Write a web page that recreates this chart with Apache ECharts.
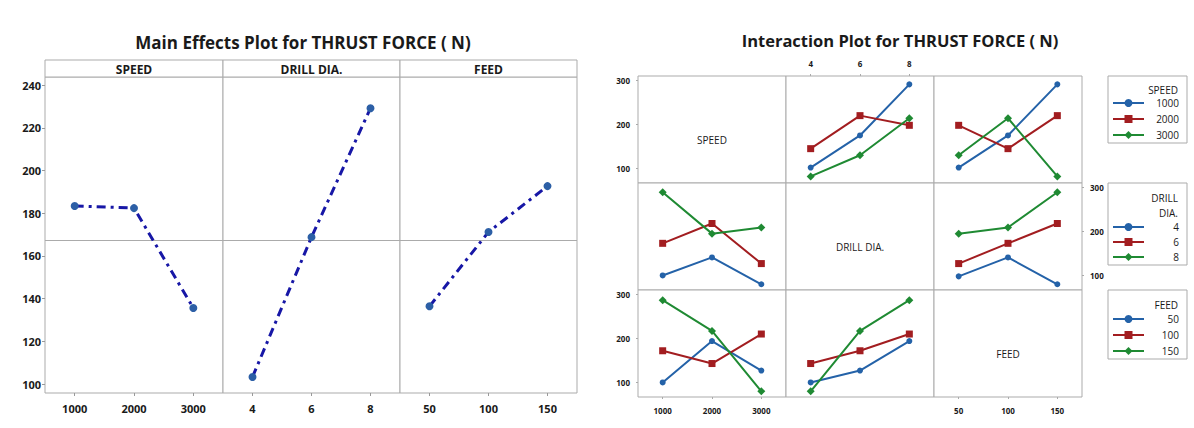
<!DOCTYPE html>
<html><head><meta charset="utf-8">
<script src="https://cdn.jsdelivr.net/npm/echarts@6/dist/echarts.min.js"></script>
<style>html,body{margin:0;padding:0;background:#fff}#c{width:1194px;height:428px}</style>
</head><body><div id="c"></div>
<script>
// ---------- DATA ----------
const speedLevels = ['1000', '2000', '3000'];
const drillLevels = ['4', '6', '8'];
const feedLevels = ['50', '100', '150'];
const factorNames = ['SPEED', 'DRILL DIA.', 'FEED'];

// Main effects (mean thrust force, N)
const meanSpeed = [183.4, 182.4, 135.6];
const meanDrill = [103.3, 168.8, 229.2];
const meanFeed = [136.4, 171.2, 192.7];
const mainTicks = [100, 120, 140, 160, 180, 200, 220, 240];

// Interaction means: rows = traced factor level, columns = x-factor level
const speedByDrill = [[102, 175, 291], [145, 220, 198], [82, 130, 214]];
const speedByFeed = [[102, 175, 291], [198, 145, 220], [130, 214, 82]];
const drillBySpeed = [[100, 141, 80], [173, 218, 127], [289, 195, 209]];
const drillByFeed = [[98, 141, 80], [127, 173, 218], [195, 209, 289]];
const feedBySpeed = [[100, 194, 127], [172, 143, 210], [287, 217, 80]];
const feedByDrill = [[100, 127, 194], [143, 172, 210], [80, 217, 287]];
const interTicks = [100, 200, 300];

// ---------- STYLE / LAYOUT ----------
const FONT = '"Open Sans", "Liberation Sans", sans-serif';
const FRAME = '#ababab';
const TXT = '#1a1a1a';
const lvlColors = ['#2462a8', '#a21d20', '#1f8a33'];
const lvlSymbols = ['circle', 'rect', 'diamond'];
const lvlSizes = [6, 7, 8];

const grids = [], xAxes = [], yAxes = [], series = [], graphics = [];

function txt(x, y, text, font, align) {
  return { type: 'text', x: x, y: y, z: 100, zlevel: 0,
    style: { text: text, font: font, fill: TXT,
      align: align, verticalAlign: 'middle', textAlign: align, textVerticalAlign: 'middle' } };
}

// ----- Main effects plot -----
const mePanels = [
  { left: 45, width: 178, cats: speedLevels, vals: meanSpeed, title: factorNames[0] },
  { left: 223, width: 177, cats: drillLevels, vals: meanDrill, title: factorNames[1] },
  { left: 400, width: 177, cats: feedLevels, vals: meanFeed, title: factorNames[2] }
];
const grandMean = (meanSpeed[0] + meanSpeed[1] + meanSpeed[2]) / 3;

mePanels.forEach((p, i) => {
  grids.push({ left: p.left, top: 77, width: p.width, height: 316, show: true,
    borderColor: FRAME, borderWidth: 1, backgroundColor: '#fff' });
  xAxes.push({ type: 'category', gridIndex: i, data: p.cats, boundaryGap: true,
    axisLine: { show: false },
    axisTick: { show: true, alignWithLabel: true, length: 3, lineStyle: { color: '#999' } },
    axisLabel: { fontFamily: FONT, fontSize: 11, fontWeight: 'bold', color: TXT, margin: 10 } });
  yAxes.push({ type: 'value', gridIndex: i, min: 95.8, max: 243.8,
    axisLine: { show: false }, splitLine: { show: false },
    axisTick: { show: i === 0, length: 3, customValues: mainTicks, lineStyle: { color: '#999' } },
    axisLabel: { show: i === 0, customValues: mainTicks, fontFamily: FONT, fontSize: 11,
      fontWeight: 'bold', color: TXT, margin: 4 } });
  series.push({ type: 'line', name: 'Mean', xAxisIndex: i, yAxisIndex: i, data: p.vals,
    symbol: 'circle', symbolSize: 8, z: 5,
    itemStyle: { color: '#2c5fa6' },
    lineStyle: { color: '#1717a6', width: 3, type: [9, 5, 3, 5] },
    markLine: { silent: true, symbol: 'none', label: { show: false },
      lineStyle: { color: FRAME, type: 'solid', width: 1 },
      data: [{ yAxis: grandMean }] } });
  graphics.push({ type: 'rect', z: 50, shape: { x: p.left, y: 60, width: p.width, height: 17 },
    style: { fill: '#fff', stroke: FRAME, lineWidth: 1 } });
  graphics.push(txt(p.left + p.width / 2, 69, p.title, 'bold 12px ' + FONT, 'center'));
});

graphics.push(txt(303, 42, 'Main Effects Plot for THRUST FORCE ( N)', 'bold 17px ' + FONT, 'center'));

// ----- Interaction plot -----
const cols = [638, 786, 934], rows = [76, 183, 290], CW = 148, RH = 107;
const factorLevels = [speedLevels, drillLevels, feedLevels];
const cellData = { '0-1': speedByDrill, '0-2': speedByFeed, '1-0': drillBySpeed,
  '1-2': drillByFeed, '2-0': feedBySpeed, '2-1': feedByDrill };

for (let r = 0; r < 3; r++) {
  for (let c = 0; c < 3; c++) {
    const gi = grids.length;
    grids.push({ left: cols[c], top: rows[r], width: CW, height: RH, show: true,
      borderColor: FRAME, borderWidth: 1, backgroundColor: '#fff' });
    const showX = (r === 0 && c === 1) || (r === 2 && c !== 1);
    xAxes.push({ type: 'category', gridIndex: gi, data: factorLevels[c], boundaryGap: true,
      position: (r === 0 && c === 1) ? 'top' : 'bottom',
      axisLine: { show: false },
      axisTick: { show: showX, alignWithLabel: true, length: 2, lineStyle: { color: '#aaa' } },
      axisLabel: { show: showX, fontFamily: FONT, fontSize: 8, fontWeight: 'bold', color: TXT, margin: 9 } });
    const showY = (c === 0 && r !== 1) || (r === 1 && c === 2);
    yAxes.push({ type: 'value', gridIndex: gi, min: 67, max: 310,
      position: (r === 1 && c === 2) ? 'right' : 'left',
      axisLine: { show: false }, splitLine: { show: false },
      axisTick: { show: showY, length: 2, customValues: interTicks, lineStyle: { color: '#aaa' } },
      axisLabel: { show: showY, customValues: interTicks, fontFamily: FONT, fontSize: 8,
        fontWeight: 'bold', color: TXT, margin: 8 } });
    if (r === c) {
      graphics.push(txt(cols[c] + CW / 2, rows[r] + RH / 2 + 10, factorNames[r], '10px ' + FONT, 'center'));
    } else {
      const d = cellData[r + '-' + c];
      factorLevels[r].forEach((lvl, k) => {
        series.push({ type: 'line', name: lvl, xAxisIndex: gi, yAxisIndex: gi, data: d[k],
          symbol: lvlSymbols[k], symbolSize: lvlSizes[k],
          itemStyle: { color: lvlColors[k] },
          lineStyle: { color: lvlColors[k], width: 2 } });
      });
    }
  }
}

graphics.push(txt(900, 40, 'Interaction Plot for THRUST FORCE ( N)', 'bold 16.5px ' + FONT, 'center'));

// legend titles
const legTitles = [['SPEED', 90], ['DRILL', 198], ['DIA.', 213], ['FEED', 305]];
legTitles.forEach(t => graphics.push(txt(1178, t[1], t[0], '10px ' + FONT, 'right')));

function makeLegend(levels, top, padTop, padBottom, gap) {
  return { data: levels, left: 1108, top: top, orient: 'vertical', selectedMode: false, z: 2,
    padding: [padTop, 8, padBottom, 4], itemWidth: 31, itemHeight: 10, itemGap: gap,
    borderColor: FRAME, borderWidth: 1, backgroundColor: 'transparent',
    formatter: '{v|{name}}',
    textStyle: { rich: { v: { width: 30, align: 'right', fontSize: 10, fontFamily: FONT, color: TXT } } } };
}

const option = {
  animation: false,
  backgroundColor: '#fff',
  grid: grids, xAxis: xAxes, yAxis: yAxes, series: series,
  legend: [
    makeLegend(speedLevels, 76, 22, 3, 6),
    makeLegend(drillLevels, 183, 39, 3, 5),
    makeLegend(feedLevels, 290, 24, 3, 6)
  ],
  graphic: { elements: graphics }
};

const chart = echarts.init(document.getElementById('c'), null, { renderer: 'svg', width: 1194, height: 428 });
chart.setOption(option);
</script></body></html>
